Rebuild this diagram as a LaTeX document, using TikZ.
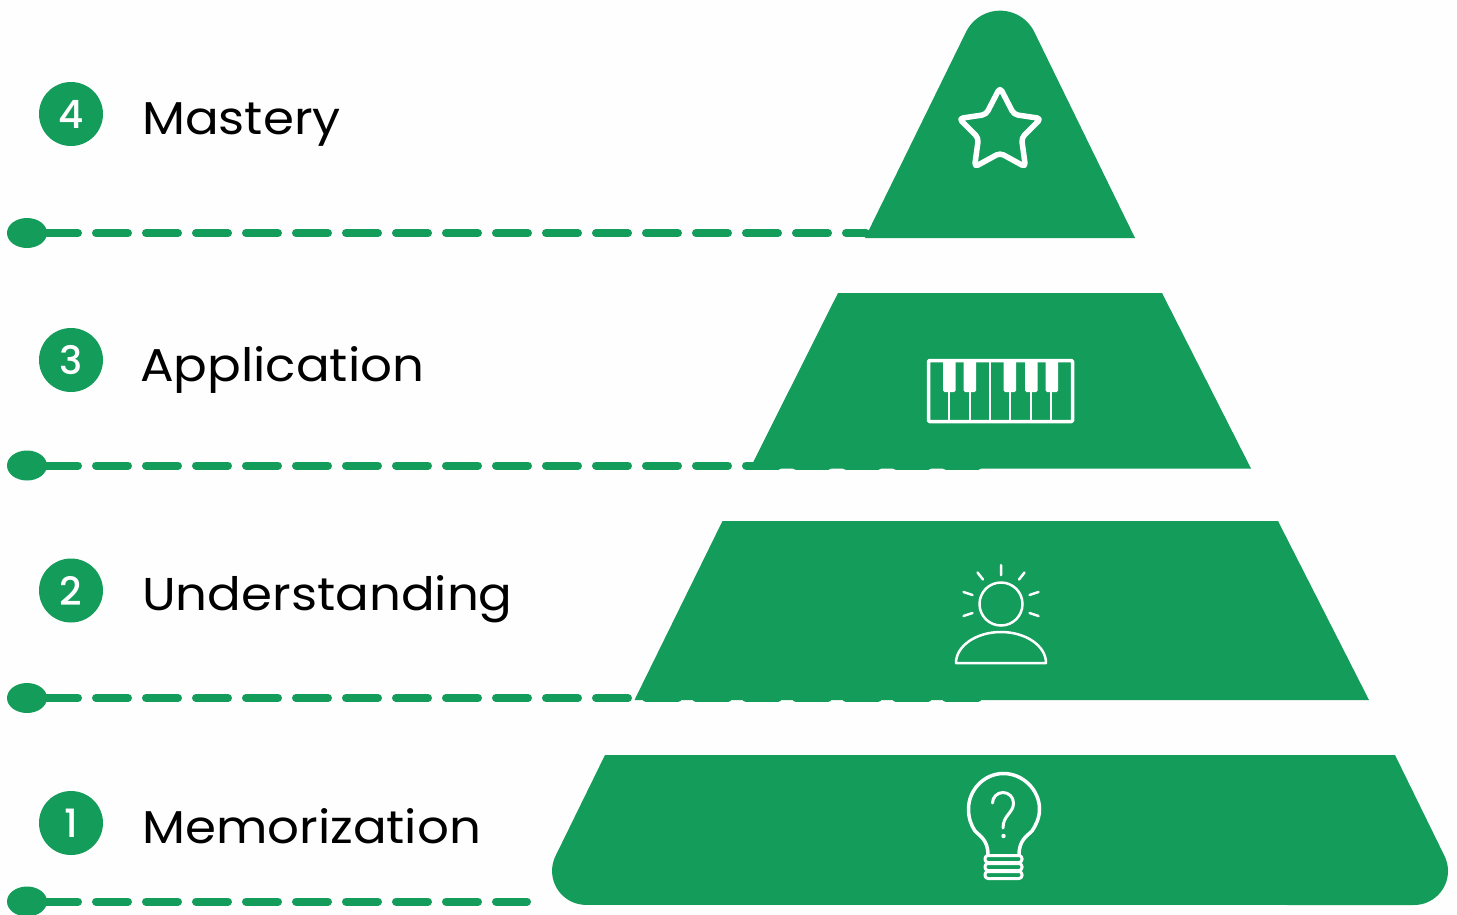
\documentclass[tikz,border=0pt]{standalone}
\usepackage{fontspec}
\setmainfont{Poppins}[FakeStretch=1.085]
\newfontfamily\digitfont{Poppins Medium}
\usetikzlibrary{shapes.geometric}
\definecolor{pgreen}{HTML}{149C5B}
\definecolor{paper}{HTML}{FDFEFD}
\tikzset{
  layer/.style={fill=pgreen,draw=none},
  knob/.style={ellipse,fill=pgreen,draw=none,minimum width=40pt,minimum height=30pt,inner sep=0pt},
  stub/.style={draw=pgreen,line width=8pt},
  dashline/.style={draw=pgreen,line width=8pt,line cap=round,dash pattern=on 32pt off 18pt},
  badge/.style={circle,fill=pgreen,draw=none,minimum size=64pt,inner sep=0pt,text=white,font=\digitfont\fontsize{39}{39}\selectfont},
  label/.style={anchor=base west,inner sep=0pt,text=black,font=\fontsize{46}{46}\selectfont},
  icon/.style={draw=white,line cap=round,line join=round},
}
\begin{document}
\begin{tikzpicture}[x=1pt,y=-1pt]
\useasboundingbox[fill=paper] (0,0) rectangle (1457,914);
% knobs
\node[knob] (k4) at (27,233) {};
\node[knob] (k3) at (27,465.5) {};
\node[knob] (k2) at (27,698) {};
\node[knob] (k1) at (27,901.5) {};
\foreach \n/\y/\e in {4/233/866,3/465.5/978,2/698/978,1/901.5/527}{
  \coordinate (s\n) at (46,\y);
  \coordinate (e\n) at (\e,\y);
  \draw[stub] (k\n.center) -- (s\n);
  \draw[dashline] (s\n) -- (e\n);
}
% pyramid
\fill[layer] (865,238) -- (966,32) arc[start angle=206,end angle=334,radius=38] -- (1135,238) -- cycle;
\fill[layer] (838,293) -- (1162,293) -- (1251,468.5) -- (750,468.5) -- cycle;
\fill[layer] (722.5,521) -- (1278,521) -- (1369,700) -- (634.5,700) -- cycle;
\fill[layer] (605,755) -- (555.5,856) arc[start angle=206,end angle=90,radius=34] -- (1414,905) arc[start angle=90,end angle=-26,radius=34] -- (1395,755) -- cycle;
% badges and labels
\node[badge] (b4) at (71,114) {4};
\node[badge] (b3) at (71,360) {3};
\node[badge] (b2) at (71,590.5) {2};
\node[badge] (b1) at (71,823) {1};
\node[label] (t4) at (142,134) {Mastery};
\node[label] (t3) at (140,381) {Application};
\node[label] (t2) at (142,610) {Understanding};
\node[label] (t1) at (142,843) {Memorization};
% star
\draw[icon,line width=5.5pt,rounded corners=4pt] (1000,87.5) -- (1014,114.5) -- (1041,118.5) -- (1021.5,138) -- (1025.5,167) -- (1000,153) -- (974.5,167) -- (978.5,138) -- (959,118.5) -- (986,114.5) -- cycle;
% piano
\draw[icon,line width=3.5pt,rounded corners=1pt] (928.5,360.5) rectangle (1072.5,421.5);
\foreach \x in {949,970,990,1010,1031,1051}{\draw[icon,line width=2.5pt,line cap=butt] (\x,361) -- (\x,421);}
\foreach \x in {943,963.5,1003.5,1025,1045.5}{\fill[white,rounded corners=1.5pt] (\x,360) rectangle (\x+12.5,392);}
% person
\draw[icon,line width=2.5pt] (1001,604) circle[radius=21.5];
\draw[icon,line width=2.5pt] (956,663) arc[start angle=180,end angle=360,x radius=45,y radius=31] -- cycle;
\draw[icon,line width=2.5pt] (1001,565) -- (1001,575) (977.5,572.5) -- (983,579.5) (1024.5,572.5) -- (1019,579.5) (963.5,592) -- (972.5,595) (1038.5,592) -- (1029.5,595) (963.5,616) -- (972.5,613) (1038.5,616) -- (1029.5,613);
% bulb
\draw[icon,line width=3.5pt] (988,855) .. controls (988,840) and (980,836) .. (975,831) .. controls (971,825) and (968.5,818) .. (968.5,809) .. controls (968.5,790) and (984,773.5) .. (1003.5,773.5) .. controls (1023,773.5) and (1039.5,790) .. (1039.5,809) .. controls (1039.5,818) and (1036,825) .. (1032,831) .. controls (1027,836) and (1019,840) .. (1019,855);
\draw[icon,line width=3pt,rounded corners=3pt] (985,855.5) rectangle (1022,862.5);
\draw[icon,line width=3pt,rounded corners=3pt] (985,863.5) rectangle (1022,870.5);
\draw[icon,line width=3pt,rounded corners=3pt] (985,871.5) rectangle (1022,878.5);
\draw[icon,line width=3pt] (992.5,803) arc[start angle=180,end angle=360,radius=10.5] .. controls (1013.5,813) and (1003,815) .. (1003,828);
\fill[white] (1003.5,836) circle[radius=2.2];
\end{tikzpicture}
\end{document}
